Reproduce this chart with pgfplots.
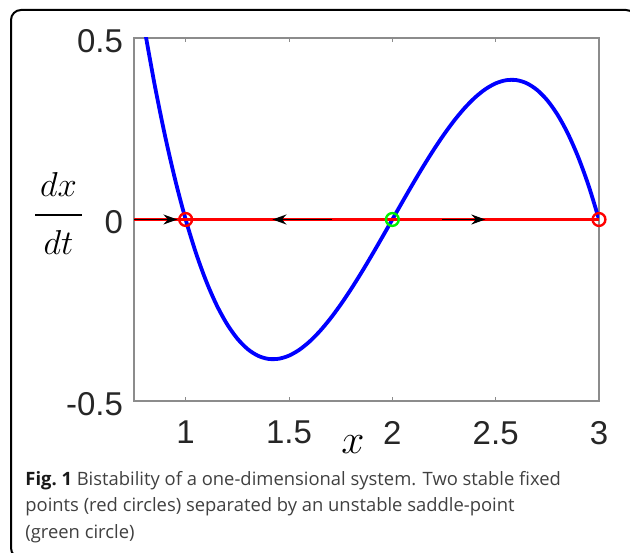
\documentclass[border=0pt]{standalone}
\usepackage{pgfplots}
\pgfplotsset{compat=1.18}
\usepackage{fontspec}
\setmainfont{Liberation Sans}
\newfontfamily\capfont{Open Sans}
\usetikzlibrary{arrows.meta}

\definecolor{mgreen}{rgb}{0,0.95,0}
\definecolor{axgray}{rgb}{0.55,0.55,0.55}
\definecolor{captext}{rgb}{0.25,0.25,0.25}

\begin{document}
\begin{tikzpicture}[x=0.5pt,y=0.5pt]
  \useasboundingbox (0,0) rectangle (630,552);
  \clip (0,0) rectangle (630,552);
  % rounded frame around figure and caption
  \draw[line width=1pt, rounded corners=5pt] (11,-6) rectangle (636,542);

  \begin{axis}[
    at={(67pt,75.5pt)}, anchor=south west,
    scale only axis, width=232.5pt, height=181.5pt,
    xmin=0.75, xmax=3, ymin=-0.5, ymax=0.5,
    xtick={1,1.5,2,2.5,3}, xticklabels={1,1.5,2,2.5,3},
    ytick={-0.5,0,0.5}, yticklabels={-0.5,0,0.5},
    tick align=inside, major tick length=2pt,
    tick style={axgray, line width=0.5pt},
    axis line style={axgray, line width=0.6pt},
    ticklabel style={font=\fontsize{16.5}{16.5}\selectfont, text=black!85},
    xticklabel style={yshift=-6.5pt},
    yticklabel style={xshift=-2pt, yshift=-1.5pt},
  ]
    % dx/dt = -(x-1)(x-2)(x-3)
    \addplot[blue, line width=1.9pt, smooth] coordinates {
      (0.80,0.528) (0.85,0.370875) (0.90,0.231) (0.95,0.107625) (1.00,0)
      (1.05,-0.092625) (1.10,-0.171) (1.15,-0.235875) (1.20,-0.288)
      (1.25,-0.328125) (1.30,-0.357) (1.35,-0.375375) (1.40,-0.384)
      (1.45,-0.383625) (1.50,-0.375) (1.55,-0.358875) (1.60,-0.336)
      (1.65,-0.307125) (1.70,-0.273) (1.75,-0.234375) (1.80,-0.192)
      (1.85,-0.146625) (1.90,-0.099) (1.95,-0.049875) (2.00,0)
      (2.05,0.049875) (2.10,0.099) (2.15,0.146625) (2.20,0.192)
      (2.25,0.234375) (2.30,0.273) (2.35,0.307125) (2.40,0.336)
      (2.45,0.358875) (2.50,0.375) (2.55,0.383625) (2.60,0.384)
      (2.65,0.375375) (2.70,0.357) (2.75,0.328125) (2.80,0.288)
      (2.85,0.235875) (2.90,0.171) (2.95,0.092625) (3.00,0)
    };
    % phase line
    \addplot[red, line width=1.8pt] coordinates {(0.75,0) (3,0)};
    % flow direction
    \addplot[black, line width=0.8pt, -{Stealth[length=7pt,width=5pt]}]
      coordinates {(0.75,0) (0.96,0)};
    \addplot[black, line width=0.8pt, -{Stealth[length=7pt,width=5pt]}]
      coordinates {(1.71,0) (1.42,0)};
    \addplot[black, line width=0.8pt, -{Stealth[length=7pt,width=5pt]}]
      coordinates {(2.24,0) (2.45,0)};
    % fixed points
    \addplot[only marks, mark=o, mark size=3.2pt, red, mark options={line width=1.2pt}]
      coordinates {(1,0) (3,0)};
    \addplot[only marks, mark=o, mark size=3.2pt, mgreen, mark options={line width=1.2pt}]
      coordinates {(2,0)};
  \end{axis}

  % axis labels
  \node[anchor=base, inner sep=0pt, font=\fontsize{17}{17}\selectfont] at (58.5,355) {$dx$};
  \draw[line width=1.1pt] (35,337) -- (82,337);
  \node[anchor=base, inner sep=0pt, font=\fontsize{17}{17}\selectfont] at (58.5,298) {$dt$};
  \node[anchor=base, inner sep=0pt, font=\fontsize{21}{21}\selectfont] at (353,99) {$x$};

  % caption (anchor on the baseline of the last line)
  \node[anchor=base west, inner sep=0pt, align=left, text=captext,
        font=\capfont\fontsize{9.2}{13.25}\selectfont] at (25,14)
    {{\bfseries\color{black!90}Fig.~1} Bistability of a one-dimensional system. Two stable fixed\\
     points (red circles) separated by an unstable saddle-point\\
     (green circle)};
\end{tikzpicture}
\end{document}
